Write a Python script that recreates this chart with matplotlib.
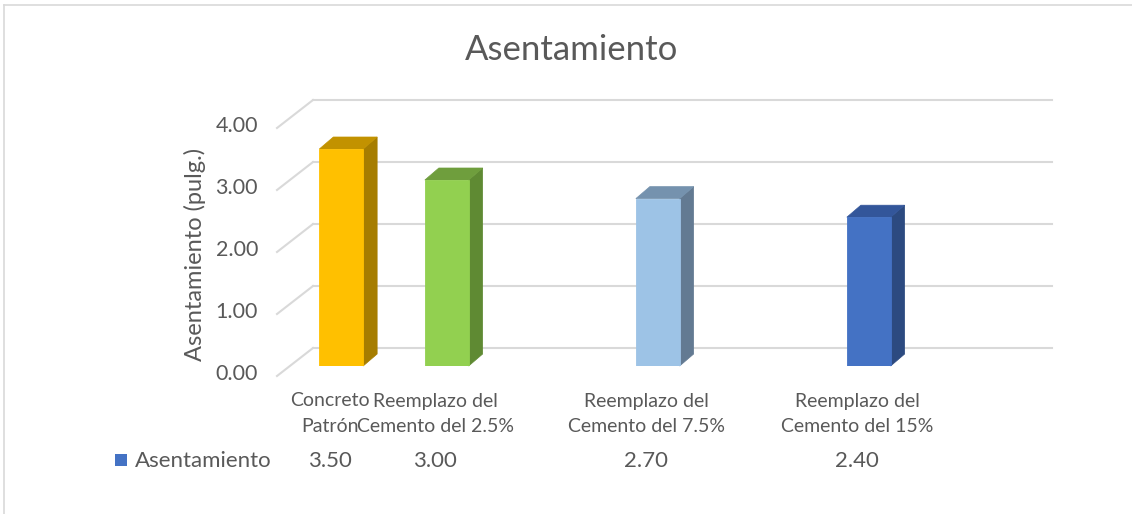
import numpy as np
import matplotlib
matplotlib.use("Agg")
import matplotlib.pyplot as plt
from matplotlib.patches import Polygon, Rectangle
from matplotlib.lines import Line2D

# ---- data ----
categories = ["Concreto\nPatrón", "Reemplazo del\nCemento del 2.5%", "",
              "Reemplazo del\nCemento del 7.5%", "", "Reemplazo del\nCemento del 15%", ""]
values = [3.50, 3.00, np.nan, 2.70, np.nan, 2.40, np.nan]
value_labels = ["3.50", "3.00", "", "2.70", "", "2.40", ""]
series_name = "Asentamiento"
title = "Asentamiento"
ylabel = "Asentamiento (pulg.)"
yticks = [0, 1, 2, 3, 4]
ytick_labels = ["0.00", "1.00", "2.00", "3.00", "4.00"]

front_colors = ["#FFC000", "#92D050", None, "#9DC3E6", None, "#4472C4", None]
side_colors = ["#A67D00", "#5F8A33", None, "#637A92", None, "#2C4A80", None]
top_colors = ["#C29200", "#6F9E3D", None, "#7592AE", None, "#33569A", None]

TXT = "#595959"
GRID = "#D9D9D9"
FONT = "Lato"
plt.rcParams["font.family"] = [FONT, "DejaVu Sans"]

W, H = 1132, 514
fig = plt.figure(figsize=(W / 100, H / 100), dpi=100)
fig.patch.set_facecolor("white")

# axes = plane in which the bar fronts sit
x0_px, x1_px = 288.5, 1027
y0_px, y4_px = 366, 118
ax = fig.add_axes([x0_px / W, (H - y0_px) / H, (x1_px - x0_px) / W, (y0_px - y4_px) / H])
n = len(categories)
ax.set_xlim(-0.5, n - 0.5)
ax.set_ylim(0, 4)
ax.axis("off")

ppx = (x1_px - x0_px) / n      # pixels per category
ppy = (y0_px - y4_px) / 4.0    # pixels per value unit

# depth offsets (pixels) -> data units
back = (24.5 / ppx, 18 / ppy)
front = (-11.5 / ppx, -10 / ppy)
bdep = (14 / ppx, 12 / ppy)

# back wall gridlines and side diagonals, tick labels
for k, v in enumerate(yticks):
    ax.add_line(Line2D([-0.5 + back[0], n - 0.5 + back[0]], [v + back[1], v + back[1]],
                       color=GRID, lw=1.5, clip_on=False, zorder=1))
    ax.add_line(Line2D([-0.5 + front[0], -0.5 + back[0]], [v + front[1], v + back[1]],
                       color=GRID, lw=1.5, clip_on=False, zorder=1))
    ax.text(-0.5 + front[0] - 19 / ppx, v + front[1] + 2 / ppy, ytick_labels[k],
            ha="right", va="center", fontsize=15.5, color=TXT, clip_on=False)

# bars
bw = 0.415
xs = np.arange(n)
for i, v in enumerate(values):
    if np.isnan(v):
        continue
    ax.bar(xs[i], v, width=bw, color=front_colors[i], zorder=3,
           edgecolor=front_colors[i], linewidth=0.6)
    l, r = xs[i] - bw / 2, xs[i] + bw / 2
    side = [(r, 0), (r + bdep[0], bdep[1]), (r + bdep[0], v + bdep[1]), (r, v)]
    top = [(l, v), (r, v), (r + bdep[0], v + bdep[1]), (l + bdep[0], v + bdep[1])]
    ax.add_patch(Polygon(side, closed=True, facecolor=side_colors[i], edgecolor=side_colors[i],
                         lw=0.5, zorder=2.9, clip_on=False))
    ax.add_patch(Polygon(top, closed=True, facecolor=top_colors[i], edgecolor=top_colors[i],
                         lw=0.5, zorder=2.9, clip_on=False))

# category labels (front plane), one text per line
line_px = [401, 427]
for i, c in enumerate(categories):
    if not c:
        continue
    for j, line in enumerate(c.split("\n")):
        ax.text(xs[i] + front[0], -(line_px[j] - y0_px) / ppy, line, ha="center", va="center",
                fontsize=14, color=TXT, clip_on=False)

# data table row
row_y = -(461 - y0_px) / ppy
for i, s in enumerate(value_labels):
    if s:
        ax.text(xs[i] + front[0], row_y, s, ha="center", va="center",
                fontsize=16, color=TXT, clip_on=False)
fig.text(135 / W, 1 - 461 / H, series_name, ha="left", va="center", fontsize=16, color=TXT)
fig.patches.append(Rectangle((115 / W, 1 - 466 / H), 12 / W, 12 / H,
                             transform=fig.transFigure, facecolor="#4472C4", edgecolor="none"))

# title and y label
fig.text(572 / W, 1 - 50 / H, title, ha="center", va="center", fontsize=25, color=TXT)
fig.text(195 / W, 1 - 254 / H, ylabel, ha="center", va="center", rotation=90,
         fontsize=17, color=TXT)

# chart border
fig.add_artist(Line2D([4 / W, 4 / W], [0, 1 - 5 / H], transform=fig.transFigure, color=GRID, lw=1.2))
fig.add_artist(Line2D([4 / W, 1], [1 - 5 / H, 1 - 5 / H], transform=fig.transFigure, color=GRID, lw=1.2))

fig.savefig("out.png", dpi=100, facecolor="white")
